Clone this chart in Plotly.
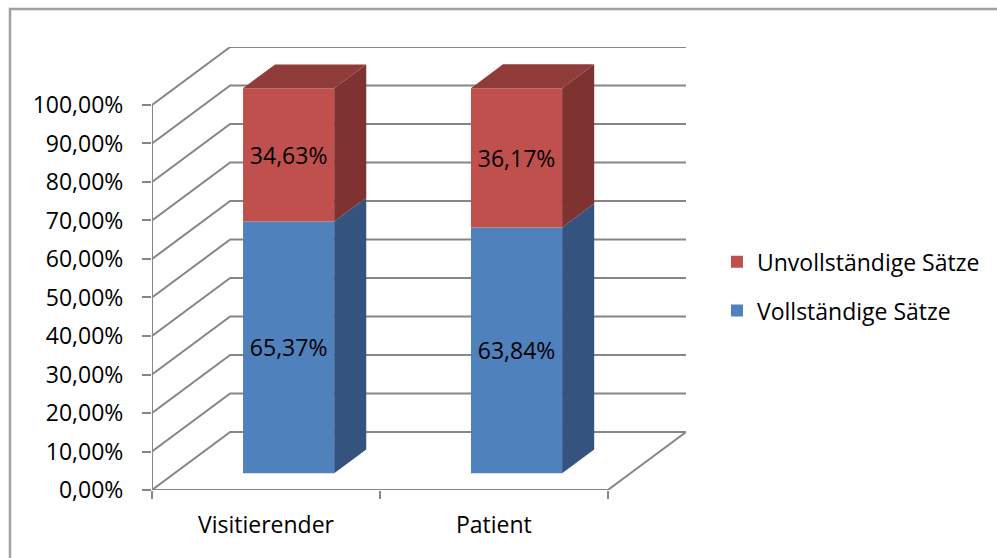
import plotly.graph_objects as go

# ---- data -------------------------------------------------------------
categories = ["Visitierender", "Patient"]
vollstaendig = [0.6537, 0.6384]      # Vollständige Sätze
unvollstaendig = [0.3463, 0.3617]    # Unvollständige Sätze
y_ticks = [0.0, 0.1, 0.2, 0.3, 0.4, 0.5, 0.6, 0.7, 0.8, 0.9, 1.0]

# ---- pseudo-3D geometry (in data units) --------------------------------
DEPTH_X = 0.3429      # horizontal shift of the back wall (category units)
DEPTH_Y = 0.1506      # vertical shift of the back wall (value units)
BAR_WIDTH = 0.4
Z_FRONT, Z_BACK = 0.29, 0.70   # bar position inside the depth

BLUE, BLUE_SIDE = "#4F81BD", "#34547F"
RED, RED_SIDE, RED_TOP = "#C0504D", "#7E3331", "#8F3C3A"
GRID = "#868686"
FONT = "Open Sans"
FS = 23

n = len(categories)
x_max = n + DEPTH_X
y_max = 1.0 + DEPTH_Y

fig = go.Figure()

# back wall / side wall gridlines
gx, gy = [], []
for v in y_ticks:
    gx += [0, DEPTH_X, n + DEPTH_X, None]
    gy += [v, v + DEPTH_Y, v + DEPTH_Y, None]
# floor front edge and right edge, value axis line
gx += [0, n, n + DEPTH_X, None, 0, 0]
gy += [0, 0, DEPTH_Y, None, 0, 1.0]
fig.add_trace(go.Scatter(x=gx, y=gy, mode="lines", cliponaxis=False,
                         line=dict(color=GRID, width=2),
                         hoverinfo="skip", showlegend=False))

# bars (front faces) on an overlaid axis pair so they sit above the grid
ox0, oy0 = Z_FRONT * DEPTH_X, Z_FRONT * DEPTH_Y
dd_x, dd_y = (Z_BACK - Z_FRONT) * DEPTH_X, (Z_BACK - Z_FRONT) * DEPTH_Y
centers = [i + 0.5 + ox0 for i in range(n)]

series = [
    ("Vollständige Sätze", vollstaendig, [0.0] * n, BLUE, BLUE_SIDE, 2),
    ("Unvollständige Sätze", unvollstaendig, vollstaendig, RED, RED_SIDE, 1),
]

for name, vals, below, col, side, rank in series:
    fig.add_trace(go.Bar(
        x=centers, y=vals, base=[b + oy0 for b in below], width=BAR_WIDTH,
        name=name, marker=dict(color=col, line=dict(width=0)),
        texttemplate="%{y:.2%}", textposition="inside",
        insidetextanchor="middle", textangle=0, constraintext="none",
        textfont=dict(family=FONT, size=FS, color="black"),
        xaxis="x2", yaxis="y2", legendgroup=name, legendrank=rank,
        hoverinfo="skip"))

# side faces of every segment, top face of each column
for name, vals, below, col, side, rank in series:
    for c, v, b in zip(centers, vals, below):
        xr = c + BAR_WIDTH / 2
        y0, y1 = b + oy0, b + v + oy0
        fig.add_trace(go.Scatter(
            x=[xr, xr + dd_x, xr + dd_x, xr, xr],
            y=[y0, y0 + dd_y, y1 + dd_y, y1, y0],
            fill="toself", fillcolor=side, mode="lines",
            line=dict(width=0, color=side), xaxis="x2", yaxis="y2",
            hoverinfo="skip", showlegend=False))

for c, b, v in zip(centers, vollstaendig, unvollstaendig):
    xl, xr = c - BAR_WIDTH / 2, c + BAR_WIDTH / 2
    yt = b + v + oy0
    fig.add_trace(go.Scatter(
        x=[xl, xr, xr + dd_x, xl + dd_x, xl],
        y=[yt, yt, yt + dd_y, yt + dd_y, yt],
        fill="toself", fillcolor=RED_TOP, mode="lines",
        line=dict(width=0, color=RED_TOP), xaxis="x2", yaxis="y2",
        hoverinfo="skip", showlegend=False))

L, R, T, B = 152, 311, 47, 68

fig.update_layout(
    width=997, height=558,
    margin=dict(l=L, r=R, t=T, b=B),
    paper_bgcolor="white", plot_bgcolor="white",
    separators=",.",
    barmode="overlay",
    font=dict(family=FONT, size=FS, color="black"),
    showlegend=True,
    legend=dict(x=1.058, y=0.46, xanchor="left", yanchor="middle",
                traceorder="grouped", tracegroupgap=16,
                font=dict(family=FONT, size=FS, color="black"),
                bgcolor="rgba(0,0,0,0)"),
    xaxis=dict(range=[0, x_max], showgrid=False, zeroline=False,
               showline=False, tickmode="array",
               tickvals=[i + 0.5 for i in range(n)], ticktext=categories,
               ticks="", ticklabelstandoff=19,
               minor=dict(tick0=0, dtick=1, ticks="outside", ticklen=8,
                          tickwidth=2, tickcolor=GRID, showgrid=False),
               tickfont=dict(family=FONT, size=FS, color="black"),
               fixedrange=True),
    yaxis=dict(range=[0, y_max], showgrid=False, zeroline=False,
               showline=False, tickmode="array", tickvals=y_ticks,
               tickformat=".2%", ticks="outside", ticklen=9, tickwidth=2,
               tickcolor=GRID, ticklabelstandoff=14,
               tickfont=dict(family=FONT, size=FS, color="black"),
               fixedrange=True),
    xaxis2=dict(range=[0, x_max], overlaying="x", visible=False,
                fixedrange=True),
    yaxis2=dict(range=[0, y_max], overlaying="y", visible=False,
                fixedrange=True),
)

# chart frame
pw, ph = 997 - L - R, 558 - T - B
fig.add_shape(type="rect", xref="paper", yref="paper",
              x0=(10 - L) / pw, x1=(1010 - L) / pw,
              y0=(558 - B - 570) / ph, y1=(558 - B - 9) / ph,
              line=dict(color="#a0a0a0", width=2.5), fillcolor="rgba(0,0,0,0)",
              layer="below")

fig.write_html("out.html")
